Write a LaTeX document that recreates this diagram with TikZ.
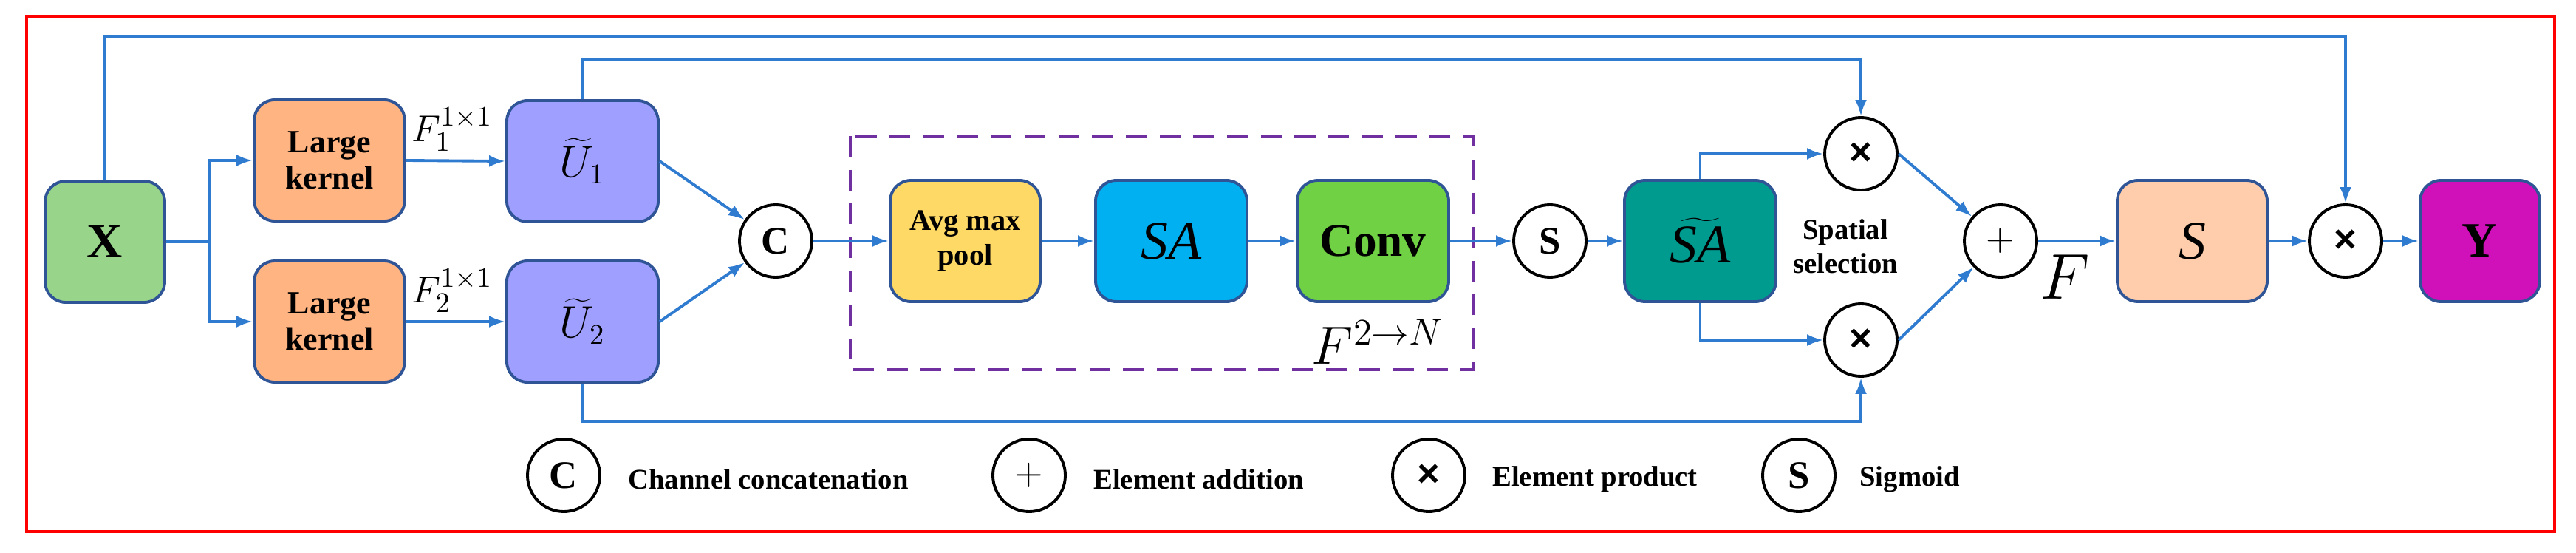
\documentclass[tikz,border=0pt]{standalone}
\usepackage{fontspec}
\setmainfont{Liberation Serif}
\newfontfamily\sansb{Liberation Sans}
\usetikzlibrary{arrows.meta,calc}
\definecolor{ln}{HTML}{2E7BCF}
\definecolor{bd}{HTML}{2F5597}
\newcommand{\tms}{{\sansb\bfseries ×}}
\begin{document}
\begin{tikzpicture}[
  box/.style={draw=bd,line width=1.1pt,rounded corners=0.28cm,minimum height=1.64cm,inner sep=0pt,align=center,font=\bfseries\fontsize{12.5}{14}\selectfont},
  op/.style={draw,circle,line width=1.1pt,minimum size=0.98cm,inner sep=0pt,font=\bfseries\fontsize{15}{15}\selectfont},
  con/.style={ln,line width=1.1pt,-{Latex[length=0.22cm,width=0.16cm]}},
  lnk/.style={ln,line width=1.1pt},
  leg/.style={anchor=west,font=\bfseries\fontsize{11}{12}\selectfont}
]
\useasboundingbox (0,0) rectangle (34.87,7.47);
\draw[red,line width=1.2pt] (0.36,0.28) rectangle (34.58,7.25);

\node[box,fill={rgb,255:red,152;green,213;blue,139},minimum width=1.62cm,font=\bfseries\fontsize{19}{19}\selectfont] (X) at (1.42,4.20) {X};
\node[box,fill={rgb,255:red,255;green,180;blue,130},minimum width=2.04cm] (L1) at (4.46,5.30) {Large\\kernel};
\node[box,fill={rgb,255:red,255;green,180;blue,130},minimum width=2.04cm] (L2) at (4.46,3.12) {Large\\kernel};
\node[box,fill={rgb,255:red,159;green,159;blue,255},minimum width=2.05cm,font=\fontsize{16}{16}\selectfont] (U1) at (7.885,5.29) {$\widetilde{U}_1$};
\node[box,fill={rgb,255:red,159;green,159;blue,255},minimum width=2.05cm,font=\fontsize{16}{16}\selectfont] (U2) at (7.885,3.12) {$\widetilde{U}_2$};
\node[op] (C) at (10.50,4.21) {C};
\draw[dashed,line width=1.2pt,color={rgb,255:red,112;green,48;blue,160},dash pattern=on 8pt off 5pt] (11.51,5.63) rectangle (19.95,2.47);
\node[box,fill={rgb,255:red,255;green,217;blue,102},minimum width=2.03cm,font=\bfseries\fontsize{11.5}{13.5}\selectfont] (avg) at (13.065,4.21) {Avg max\\pool};
\node[box,fill={rgb,255:red,0;green,176;blue,240},minimum width=2.05cm,font=\itshape\fontsize{21}{21}\selectfont] (SA) at (15.855,4.21) {SA};
\node[box,fill={rgb,255:red,111;green,209;blue,67},minimum width=2.05cm,font=\bfseries\fontsize{18}{18}\selectfont] (conv) at (18.585,4.21) {Conv};
\node[op] (S) at (20.98,4.21) {S};
\node[box,fill={rgb,255:red,0;green,155;blue,143},minimum width=2.05cm,font=\itshape\fontsize{21}{21}\selectfont] (SAt) at (23.015,4.21) {$\widetilde{\textit{SA}}$};
\node[op] (xu) at (25.19,5.39) {\tms};
\node[op] (xl) at (25.19,2.87) {\tms};
\node[font=\bfseries\fontsize{11}{13}\selectfont,align=center,inner sep=1pt] (sp) at (24.98,4.14) {Spatial\\selection};
\node[op] (plus) at (27.08,4.21) {$+$};
\node[box,fill={rgb,255:red,255;green,205;blue,171},minimum width=2.03cm,font=\itshape\fontsize{21}{21}\selectfont] (Sb) at (29.675,4.21) {S};
\node[op] (xf) at (31.75,4.21) {\tms};
\node[box,fill={rgb,255:red,208;green,16;blue,184},minimum width=1.62cm,font=\bfseries\fontsize{19}{19}\selectfont] (Y) at (33.57,4.21) {Y};

\node[font=\fontsize{15}{15}\selectfont,inner sep=1pt] (f1) at (6.12,5.72) {$F_1^{1\times1}$};
\node[font=\fontsize{15}{15}\selectfont,inner sep=1pt] (f2) at (6.12,3.54) {$F_2^{1\times1}$};
\node[font=\fontsize{21}{21}\selectfont] (fn) at (18.65,2.85) {$F^{2\to N}$};
\node[font=\fontsize{25}{25}\selectfont] (F) at (27.95,3.72) {$F$};

% connectors
\coordinate (br) at (2.83,4.20);
\draw[lnk] (X.east) -- (br);
\draw[con] (br) |- (L1.west);
\draw[con] (br) |- (L2.west);
\draw[con] (L1.east) -- (U1.west);
\draw[con] (L2.east) -- (U2.west);
\draw[con] (U1.east) -- (C);
\draw[con] (U2.east) -- (C);
\draw[con] (C) -- (avg);
\draw[con] (avg) -- (SA);
\draw[con] (SA) -- (conv);
\draw[con] (conv) -- (S);
\draw[con] (S) -- (SAt);
\draw[con] (SAt.north) |- (xu.west);
\draw[con] (SAt.south) |- (xl.west);
\draw[con] (X.north) |- (31.75,6.97) -- (xf.north);
\draw[con] (U1.north) |- (25.19,6.66) -- (xu.north);
\draw[con] (U2.south) |- (25.19,1.77) -- (xl.south);
\draw[con] (xu.east) -- (plus);
\draw[con] (xl.east) -- (plus);
\draw[con] (plus) -- (Sb);
\draw[con] (Sb) -- (xf);
\draw[con] (xf) -- (Y);

% legend
\node[op] (lc) at (7.63,1.04) {C};
\node[leg] at (8.38,0.99) {Channel concatenation};
\node[op] (lp) at (13.93,1.04) {$+$};
\node[leg] at (14.68,0.99) {Element addition};
\node[op] (lx) at (19.34,1.04) {\tms};
\node[leg] at (20.08,0.99) {Element product};
\node[op] (ls) at (24.35,1.04) {S};
\node[leg] at (25.05,0.99) {Sigmoid};
\end{tikzpicture}
\end{document}
